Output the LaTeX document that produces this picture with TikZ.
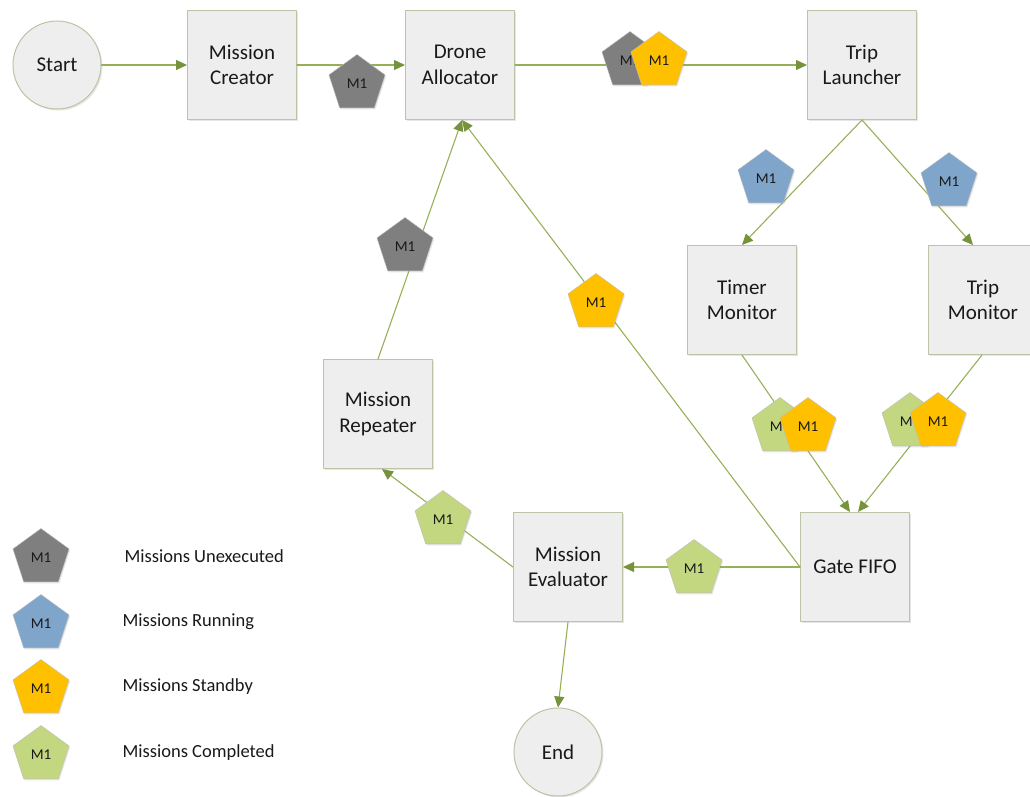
\documentclass[tikz,border=0pt]{standalone}
\usepackage{fontspec}
\setmainfont{Carlito}
\usetikzlibrary{shapes.geometric,arrows.meta,shadows}
\definecolor{lineol}{RGB}{150,176,88}
\definecolor{tipol}{RGB}{118,146,60}
\definecolor{boxfill}{RGB}{238,238,238}
\definecolor{boxline}{RGB}{188,196,166}
\definecolor{mgray}{RGB}{127,127,127}
\definecolor{mblue}{RGB}{128,165,202}
\definecolor{myellow}{RGB}{255,192,0}
\definecolor{mgreen}{RGB}{195,214,128}
\begin{document}
\begin{tikzpicture}[x=1pt, y=-1pt, line join=round, line cap=round,
    >={Triangle[length=11pt,width=10pt,color=tipol]},
    box/.style={draw=boxline, fill=boxfill, line width=1pt, minimum width=109pt, minimum height=109pt,
        inner sep=0pt, align=center, text=black!90, font=\fontsize{21}{25.5}\selectfont,
        drop shadow={shadow xshift=1.5pt, shadow yshift=-1.5pt, opacity=0.2}},
    circ/.style={box, circle, minimum size=88pt},
    tok/.style={regular polygon, regular polygon sides=5, minimum size=59pt, inner sep=0pt,
        draw=black!25, fill=#1, text=black!90, font=\fontsize{15}{16}\selectfont,
        drop shadow={shadow xshift=1pt, shadow yshift=-1.5pt, opacity=0.2}},
    flow/.style={draw=lineol, line width=1.1pt, ->}]
\useasboundingbox (0,0) rectangle (1030,797);
% Boxes
\node[circ] (start) at (57,65) {Start};
\node[box] (creator) at (242,65) {Mission\\Creator};
\node[box] (alloc) at (460,65) {Drone\\Allocator};
\node[box] (launch) at (862,65) {Trip\\Launcher};
\node[box] (timer) at (742,300) {Timer\\Monitor};
\node[box] (tripmon) at (983,300) {Trip\\Monitor};
\node[box] (repeat) at (378,414) {Mission\\Repeater};
\node[box] (eval) at (568,567) {Mission\\Evaluator};
\node[box] (gate) at (855,567) {Gate FIFO};
\node[circ] (end) at (558,752) {End};
% Flows
\draw[flow] (start) -- (creator);
\draw[flow] (creator) -- (alloc);
\draw[flow] (alloc) -- (launch);
\draw[flow] (launch.south) -- (timer.north);
\draw[flow] (launch.south) -- ([xshift=-10pt]tripmon.north);
\draw[flow] (timer.south) -- ([xshift=-5pt]gate.north);
\draw[flow] ([xshift=-1pt]tripmon.south) -- ([xshift=3pt]gate.north);
\draw[flow] (gate.west) -- (eval.east);
\draw[flow] (gate.west) -- ([xshift=2pt]alloc.south);
\draw[flow] (repeat.north) -- ([xshift=2pt]alloc.south);
\draw[flow] (eval.west) -- ([xshift=4pt]repeat.south);
\draw[flow] (eval.south) -- (end.north);
% Missions on the flows
\foreach \n/\c/\x/\y in {tA/mgray/357/84, tB/mgray/630/61, tC/myellow/659/61,
    tD/mblue/766/179, tE/mblue/949/182, tF/mgray/405/247, tG/myellow/596/303,
    tH/mgreen/780/427, tI/myellow/808/427, tJ/mgreen/910/422, tK/myellow/938/422,
    tL/mgreen/443/520, tM/mgreen/694/569}
  \node[tok=\c] (\n) at (\x,\y) {M1};
% Legend
\foreach \c/\y/\x/\t [count=\i] in {mgray/558/121/Missions Unexecuted, mblue/624/119/Missions Running,
    myellow/689/119/Missions Standby, mgreen/755/119/Missions Completed}
  {\node[tok=\c] (lg\i) at (41,\y) {M1};
   \node[anchor=west, text=black!90, font=\fontsize{18.5}{22}\selectfont] (lt\i) at (\x,\y-2) {\t};}
\end{tikzpicture}
\end{document}
